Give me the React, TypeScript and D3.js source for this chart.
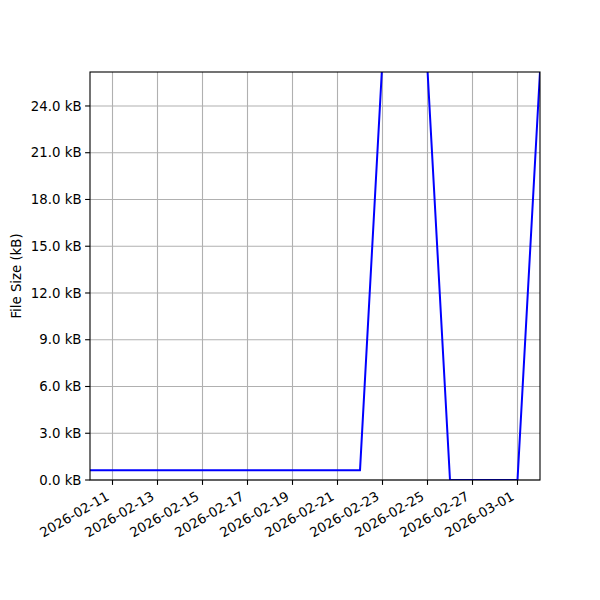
import React from "react";
import * as d3 from "d3";

const dates: string[] = [
  "2026-02-10", "2026-02-11", "2026-02-12", "2026-02-13", "2026-02-14",
  "2026-02-15", "2026-02-16", "2026-02-17", "2026-02-18", "2026-02-19",
  "2026-02-20", "2026-02-21", "2026-02-22", "2026-02-23", "2026-02-24",
  "2026-02-25", "2026-02-26", "2026-02-27", "2026-02-28", "2026-03-01",
  "2026-03-02",
];
const sizesKB: number[] = [
  0.62, 0.62, 0.62, 0.62, 0.62, 0.62, 0.62, 0.62, 0.62, 0.62,
  0.62, 0.62, 0.62, 27.0, 30.0, 26.3, 0, 0, 0, 0,
  26.2,
];
const yTicks: number[] = [0, 3, 6, 9, 12, 15, 18, 21, 24];
const xTickLabels: string[] = [
  "2026-02-11", "2026-02-13", "2026-02-15", "2026-02-17", "2026-02-19",
  "2026-02-21", "2026-02-23", "2026-02-25", "2026-02-27", "2026-03-01",
];

const W = 600, H = 600;
const L = 90, R = 540, T = 72, B = 480;
const FONT = "DejaVu Sans, sans-serif";

export default function App() {
  const parse = d3.utcParse("%Y-%m-%d");
  const x = d3.scaleUtc()
    .domain([parse("2026-02-10")!, parse("2026-03-02")!])
    .range([L, R]);
  const y = d3.scaleLinear().domain([0, 26.18]).range([B, T]);
  const pts: [number, number][] = dates.map((d, i) => [x(parse(d)!), y(sizesKB[i])]);
  const line = d3.line();
  const tickFs = 13.3;
  return (
    <svg width={W} height={H} style={{ display: "block", margin: -8, background: "#fff" }}>
      <defs>
        <clipPath id="plot">
          <rect x={L} y={T} width={R - L} height={B - T} />
        </clipPath>
      </defs>
      <rect x={0} y={0} width={W} height={H} fill="#fff" />
      {xTickLabels.map((t) => (
        <line key={"gx" + t} x1={x(parse(t)!)} x2={x(parse(t)!)} y1={T} y2={B} stroke="#b0b0b0" strokeWidth={1.1} />
      ))}
      {yTicks.map((v) => (
        <line key={"gy" + v} x1={L} x2={R} y1={y(v)} y2={y(v)} stroke="#b0b0b0" strokeWidth={1.1} />
      ))}
      <path d={line(pts) || ""} fill="none" stroke="#0000ff" strokeWidth={2} clipPath="url(#plot)" strokeLinejoin="round" />
      <rect x={L} y={T} width={R - L} height={B - T} fill="none" stroke="#000" strokeWidth={1.1} />
      {yTicks.map((v) => (
        <g key={"ty" + v}>
          <line x1={L - 4.9} x2={L} y1={y(v)} y2={y(v)} stroke="#000" strokeWidth={1.1} />
          <text x={L - 8.5} y={y(v)} dy="0.35em" textAnchor="end" fontFamily={FONT} fontSize={tickFs} fill="#000">
            {v.toFixed(1) + " kB"}
          </text>
        </g>
      ))}
      {xTickLabels.map((t) => {
        const px = x(parse(t)!);
        return (
          <g key={"tx" + t}>
            <line x1={px} x2={px} y1={B} y2={B + 4.9} stroke="#000" strokeWidth={1.1} />
            <text transform={`translate(${px - 7.5},${B + 10}) rotate(-30)`} dy="0.78em" textAnchor="end" fontFamily={FONT} fontSize={tickFs} fill="#000">
              {t}
            </text>
          </g>
        );
      })}
      <text transform={`translate(${21},${(T + B) / 2}) rotate(-90)`} textAnchor="middle" fontFamily={FONT} fontSize={tickFs} fill="#000">
        File Size (kB)
      </text>
    </svg>
  );
}
